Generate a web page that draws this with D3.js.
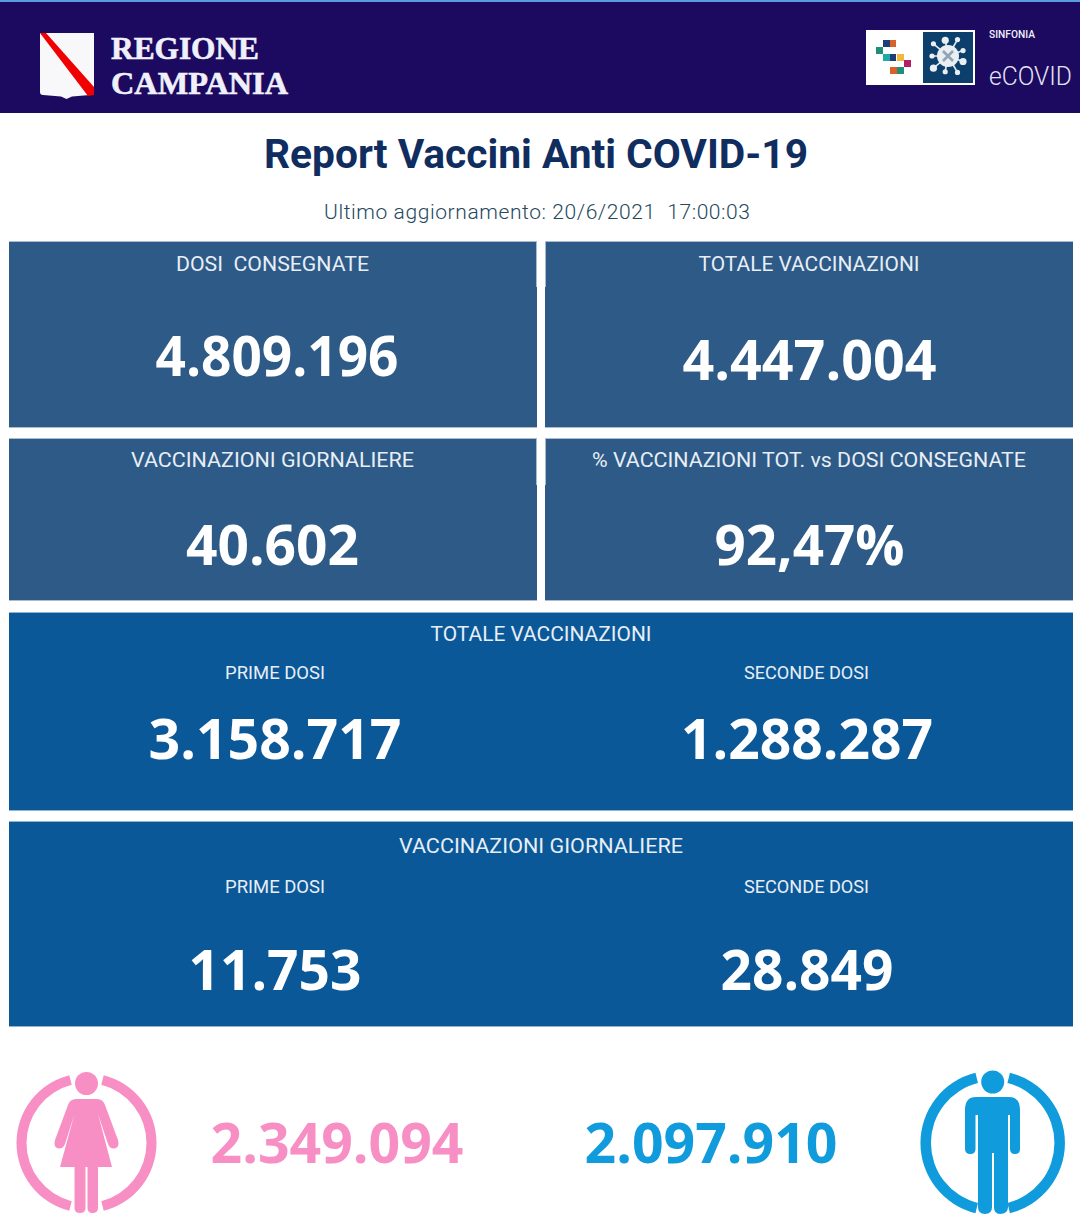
<!DOCTYPE html>
<html><head><meta charset="utf-8">
<script src="https://cdn.jsdelivr.net/npm/d3@7/dist/d3.min.js"></script>
<style>html,body{margin:0;padding:0;background:#fff}svg{display:block}text{font-family:Roboto,sans-serif}</style>
</head><body><svg id="c" width="1080" height="1219"></svg>
<script>
const reportTitle = "Report Vaccini Anti COVID-19";
const updated = "Ultimo aggiornamento: 20/6/2021  17:00:03";
const topTitles = ["DOSI  CONSEGNATE","TOTALE VACCINAZIONI","VACCINAZIONI GIORNALIERE","% VACCINAZIONI TOT. vs DOSI CONSEGNATE"];
const topValues = ["4.809.196","4.447.004","40.602","92,47%"];
const bandTitles = ["TOTALE VACCINAZIONI","VACCINAZIONI GIORNALIERE"];
const doseLabels = ["PRIME DOSI","SECONDE DOSI"];
const bandValues = [["3.158.717","1.288.287"],["11.753","28.849"]];
const genderValues = ["2.349.094","2.097.910"];

const svg = d3.select("#c");
const T = (x,y,s,size,fill,weight,anchor,extra)=>{
  const t = svg.append("text").attr("x",x).attr("y",y).text(s).attr("font-size",size)
    .attr("fill",fill).attr("font-weight",weight||400).attr("text-anchor",anchor||"middle").attr("xml:space","preserve");
  if(extra) extra(t); return t;
};
const fit = w => t => t.attr("textLength",w).attr("lengthAdjust","spacingAndGlyphs");
const big = w => t => fit(w)(t).style("font-family","'Open Sans',sans-serif");
const R = (x,y,w,h,f)=>svg.append("rect").attr("x",x).attr("y",y).attr("width",w).attr("height",h).attr("fill",f);

// header
R(0,0,1080,113,"#1b0a60");
R(0,0,1080,2,"#5b9be0");
// shield
svg.append("path").attr("d","M40 33H94V92Q94 95 90 95L72 96.500L66.500 99L61 96.500L43 95Q40 95 40 92Z").attr("fill","#f8f8fa");
svg.append("path").attr("d","M40 33H46L94 87V95L88 96Z").attr("fill","#f00000");
const serif = t=>t.style("font-family","'Liberation Serif',serif").attr("stroke","#f0f0fa").attr("stroke-width",0.6);
T(111,58.500,"REGIONE",32,"#f0f0fa",700,"start",t=>{serif(t);fit(148)(t)});
T(111,94,"CAMPANIA",32,"#f0f0fa",700,"start",t=>{serif(t);fit(177)(t)});

// eCOVID logo
R(866,30,109,55,"#ffffff");
R(923,32,50,51,"#0c3f6b");
const blocks=[[883,40,7,"#1d3f78"],[890,40,6,"#d9622b"],[876,47,7,"#1f8f78"],[883,54,7,"#1eaaa8"],[890,54,6,"#1d3f78"],[897,54,7,"#f0b93a"],[904,60,7,"#b21f6b"],[890,67,7,"#d9622b"],[897,67,7,"#1f8f78"]];
blocks.forEach(b=>R(b[0],b[1],b[2],7,b[3]));
const vc=[948,56];
d3.range(9).forEach(i=>{
  const a=i/9*2*Math.PI+0.35, r=i%2?19:16, x=vc[0]+r*Math.cos(a), y=vc[1]+r*Math.sin(a);
  svg.append("line").attr("x1",vc[0]).attr("y1",vc[1]).attr("x2",x).attr("y2",y).attr("stroke","#e8eef2").attr("stroke-width",1.6);
  svg.append("circle").attr("cx",x).attr("cy",y).attr("r",i%3==0?3.6:2.6).attr("fill","#e8eef2");
});
svg.append("circle").attr("cx",vc[0]).attr("cy",vc[1]).attr("r",11).attr("fill","#e8eef2");
svg.append("path").attr("d","M943 51L953 61M953 51L943 61").attr("stroke","#8fa3b3").attr("stroke-width",2.6);
T(989,38,"SINFONIA",11.500,"#f0f0fa",500,"start",fit(46));
T(989,85,"eCOVID",25,"#e4e4f2",300,"start",fit(83));

// titles
T(536,168,reportTitle,40,"#0f2d5f",700,"middle",fit(544));
T(537,219,updated,21,"#24485c",300,"middle",t=>t.attr("textLength",426).attr("lengthAdjust","spacing"));

// top cards
const cardX=[9,545], cardW=[528,528], edge="#a9bccf";
const cardRows=[{y:241,h:187,ty:271,vy:[376,380],edgeH:46},{y:438,h:163,ty:467,vy:[565,565],edgeH:47}];
const titleCx=[272.500,809,272.500,809], valCx=[277,809.500,272.500,809.500];
const topW=[243,254,173,190], titleW=[193,221,283,434];
topTitles.forEach((s,i)=>{
  const col=i%2,row=cardRows[i>>1];
  R(cardX[col],row.y,cardW[col],row.h,"#2d5a87");
  R(cardX[col],row.y,cardW[col],1,edge);
  R(cardX[col],row.y+row.h-1,cardW[col],1,edge);
  R(col?545:536,row.y,1,row.edgeH,edge);
  T(titleCx[i],row.ty,s,21,"#e8eef5",400,"middle",fit(titleW[i]));
  T(valCx[i],row.vy[col],topValues[i],56,"#ffffff",700,"middle",big(topW[i]));
});

// bands
const bands=[{y:612,h:199,ty:641,ly:679,vy:759},{y:821,h:206,ty:853,ly:893,vy:990}];
const doseCx=[275,806.500], doseW=[100,125], bandTitleW=[221,284];
const bandW=[[253,252],[173,173]];
bandTitles.forEach((s,i)=>{
  const b=bands[i];
  R(9,b.y,1064,b.h,"#0b5899");
  R(9,b.y,1064,1,"#8fb4d2");
  R(9,b.y+b.h-1,1064,1,"#8fb4d2");
  T(541,b.ty,s,21,"#e8eef5",400,"middle",fit(bandTitleW[i]));
  doseLabels.forEach((l,j)=>{
    T(doseCx[j],b.ly,l,18,"#e8eef5",400,"middle",fit(doseW[j]));
    T(doseCx[j]+(j?0.5:0),b.vy,bandValues[i][j],56,"#ffffff",700,"middle",big(bandW[i][j]));
  });
});

// gender
const pink="#f78fc4", blue="#0f9bdc";
T(337,1163,genderValues[0],56,pink,700,"middle",big(253));
T(711,1163,genderValues[1],56,blue,700,"middle",big(253));

function ring(cx,cy,r,sw,gap,col){
  const a=Math.asin(gap/r);
  const arc=d3.arc().innerRadius(r-sw/2).outerRadius(r+sw/2);
  [[a,Math.PI-a],[Math.PI+a,2*Math.PI-a]].forEach(([s,e])=>{
    svg.append("path").attr("transform",`translate(${cx},${cy})`).attr("d",arc({startAngle:s,endAngle:e})).attr("fill",col);
  });
}
// female
ring(86.500,1143,65,10,16,pink);
svg.append("circle").attr("cx",86.500).attr("cy",1083.500).attr("r",11.500).attr("fill",pink);
svg.append("path").attr("fill",pink).attr("d","M76 1099H97Q103 1099 105 1105L118 1140Q120 1147 114.500 1148.500Q110 1149 108 1144L98 1114L112 1167H98V1208Q98 1213 92.500 1213Q87.500 1213 87.500 1208V1167H85.500V1208Q85.500 1213 80 1213Q74.500 1213 74.500 1208V1167H60L74.500 1114L65 1144Q63 1149 58.500 1148.500Q53 1147 55 1140L68 1105Q70 1099 76 1099Z");
// male
ring(992.700,1143,67,10.500,16,blue);
svg.append("circle").attr("cx",992.700).attr("cy",1082).attr("r",11.500).attr("fill",blue);
svg.append("path").attr("fill",blue).attr("d","M976 1097H1009Q1020 1097 1020 1110V1149Q1020 1154 1015 1154Q1010 1154 1010 1149V1115H1008V1207Q1008 1214 1000 1214Q994 1214 994 1207V1153H992V1207Q992 1214 985 1214Q978 1214 978 1207V1115H975.500V1149Q975.500 1154 970.500 1154Q965 1154 965 1149V1110Q965 1097 976 1097Z");
</script></body></html>
